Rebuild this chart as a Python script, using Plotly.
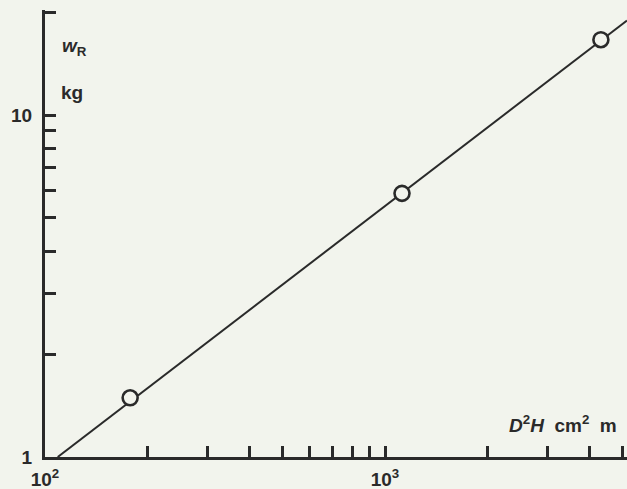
import math
import plotly.graph_objects as go

# Sample measurements: stem index D^2 H (cm^2 m) against root weight W_R (kg)
d2h = [178, 1122, 4315]
w_root = [1.49, 5.9, 16.6]

# Fitted power-law line, given by its two end points
fit_d2h = [109, 5150]
fit_w = [1.0, 18.9]

# Tick positions and labels for the two log axes
x_tickvals = [100, 200, 300, 400, 500, 600, 700, 800, 900, 1000, 2000, 3000, 4000, 5000]
x_ticktext = ["10<sup>2</sup>"] + [""] * 8 + ["10<sup>3</sup>"] + [""] * 4
y_tickvals = [1, 2, 3, 4, 5, 6, 7, 8, 9, 10, 20]
y_ticktext = ["1"] + [""] * 8 + ["10", ""]

INK = "#2a2a2a"
PAPER = "#f2f4ed"
FONT = "Liberation Sans, Arial, sans-serif"

W, H = 627, 489
ML, MR, MT, MB = 45, 0, 10, 32
plot_w = W - ML - MR
plot_h = H - MT - MB

fig = go.Figure()
fig.add_trace(go.Scatter(
    x=fit_d2h, y=fit_w, mode="lines",
    line=dict(color=INK, width=2), hoverinfo="skip", showlegend=False,
))
fig.add_trace(go.Scatter(
    x=d2h, y=w_root, mode="markers",
    marker=dict(symbol="circle", size=15, color=PAPER,
                line=dict(color=INK, width=2.6)),
    showlegend=False,
))


def px_to_paper(px, py):
    return (px - ML) / plot_w, (H - MB - py) / plot_h


label_font = dict(family=FONT, size=19, color=INK)

ax, ay = px_to_paper(60, 47)
fig.add_annotation(x=ax, y=ay, xref="paper", yref="paper", showarrow=False,
                   xanchor="left", yanchor="middle",
                   text="<b><i>w</i><sub>R</sub></b>", font=label_font)
ax, ay = px_to_paper(59, 92)
fig.add_annotation(x=ax, y=ay, xref="paper", yref="paper", showarrow=False,
                   xanchor="left", yanchor="middle",
                   text="<b>kg</b>", font=label_font)
ax, ay = px_to_paper(619, 424)
fig.add_annotation(x=ax, y=ay, xref="paper", yref="paper", showarrow=False,
                   xanchor="right", yanchor="middle",
                   text="<b><i>D</i><sup>2</sup><i>H</i>  cm<sup>2</sup>  m</b>",
                   font=label_font)

axis_common = dict(
    type="log", showgrid=False, zeroline=False,
    showline=True, linecolor=INK, linewidth=3,
    ticks="inside", ticklen=11, tickwidth=2.5, tickcolor=INK,
    tickfont=dict(family=FONT, size=19, color=INK),
    tickmode="array",
)

fig.update_xaxes(**axis_common, range=[2, 2 + plot_w / 340],
                 tickvals=x_tickvals, ticktext=[f"<b>{t}</b>" if t else "" for t in x_ticktext],
                 ticklabelstandoff=3)
fig.update_yaxes(**axis_common, range=[0, plot_h / 342],
                 tickvals=y_tickvals, ticktext=[f"<b>{t}</b>" if t else "" for t in y_ticktext],
                 ticklabelstandoff=6)

fig.update_layout(
    width=W, height=H,
    margin=dict(l=ML, r=MR, t=MT, b=MB, pad=0),
    paper_bgcolor=PAPER, plot_bgcolor=PAPER,
    font=dict(family=FONT, color=INK),
)

fig.write_html("out.html")
